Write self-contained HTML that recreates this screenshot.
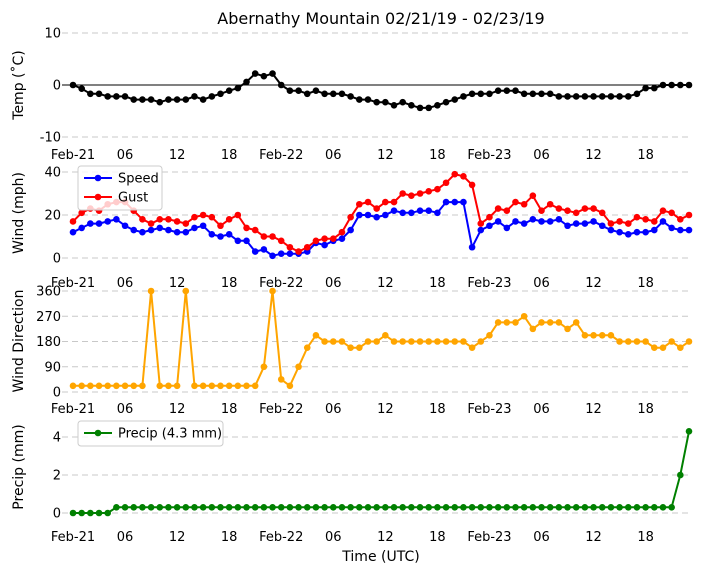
<!DOCTYPE html>
<html><head><meta charset="utf-8"><style>
body{margin:0;background:#fff;font-family:"Liberation Sans",sans-serif}
svg text{font-family:"DejaVu Sans","Liberation Sans",sans-serif}
</style></head><body>
<svg id="c" width="704" height="573"></svg>
<script>
const hours = 72;
const tempVals = [0,-0.7,-1.7,-1.7,-2.2,-2.2,-2.2,-2.8,-2.8,-2.8,-3.3,-2.8,-2.8,-2.8,-2.2,-2.8,-2.2,-1.7,-1.1,-0.6,0.6,2.2,1.7,2.2,0,-1.1,-1.1,-1.7,-1.1,-1.7,-1.7,-1.7,-2.2,-2.8,-2.8,-3.3,-3.3,-3.9,-3.3,-3.9,-4.4,-4.4,-3.9,-3.3,-2.8,-2.2,-1.7,-1.7,-1.7,-1.1,-1.1,-1.1,-1.7,-1.7,-1.7,-1.7,-2.2,-2.2,-2.2,-2.2,-2.2,-2.2,-2.2,-2.2,-2.2,-1.7,-0.6,-0.6,0,0,0,0];
const speedVals = [12,14,16,16,17,18,15,13,12,13,14,13,12,12,14,15,11,10,11,8,8,3,4,1,2,2,2,3,7,6,8,9,13,20,20,19,20,22,21,21,22,22,21,26,26,26,5,13,15,17,14,17,16,18,17,17,18,15,16,16,17,15,13,12,11,12,12,13,17,14,13,13];
const gustVals = [17,21,23,22,25,26,26,22,18,16,18,18,17,16,19,20,19,15,18,20,14,13,10,10,8,5,3,5,8,9,9,12,19,25,26,23,26,26,30,29,30,31,32,35,39,38,34,16,19,23,22,26,25,29,22,25,23,22,21,23,23,21,16,17,16,19,18,17,22,21,18,20];
const dirVals = [22,22,22,22,22,22,22,22,22,360,22,22,22,360,22,22,22,22,22,22,22,22,90,360,45,22,90,158,202,180,180,180,158,158,180,180,202,180,180,180,180,180,180,180,180,180,158,180,202,248,248,248,270,225,248,248,248,225,248,202,202,202,202,180,180,180,180,158,158,180,158,180];
const precipVals = [0,0,0,0,0,0.3,0.3,0.3,0.3,0.3,0.3,0.3,0.3,0.3,0.3,0.3,0.3,0.3,0.3,0.3,0.3,0.3,0.3,0.3,0.3,0.3,0.3,0.3,0.3,0.3,0.3,0.3,0.3,0.3,0.3,0.3,0.3,0.3,0.3,0.3,0.3,0.3,0.3,0.3,0.3,0.3,0.3,0.3,0.3,0.3,0.3,0.3,0.3,0.3,0.3,0.3,0.3,0.3,0.3,0.3,0.3,0.3,0.3,0.3,0.3,0.3,0.3,0.3,0.3,0.3,2.0,4.3];
const xTickLabels = ["Feb-21","06","12","18","Feb-22","06","12","18","Feb-23","06","12","18"];
const tempTicks = [10,0,-10];
const windTicks = [0,20,40];
const dirTicks = [0,90,180,270,360];
const precipTicks = [0,2,4];

const svg = document.getElementById('c');
const NS = 'http://www.w3.org/2000/svg';
function mk(tag, attrs, parent){const e=document.createElementNS(NS,tag);for(const k in attrs)e.setAttribute(k,attrs[k]);(parent||svg).appendChild(e);return e;}
const x = h => 73 + h * (616/71);
function lin(v0,p0,v1,p1){return v => p0 + (v - v0) * (p1 - p0) / (v1 - v0);}

const t = mk('text',{x:381,y:24,'text-anchor':'middle','font-size':16});
t.textContent='Abernathy Mountain 02/21/19 - 02/23/19';



function panel(name, ylab, ticks, yf, tickY, labY, gridDash){
  const g = mk('g',{});
  
  
  ticks.forEach(v=>{
    const y=yf(v);
    const l=mk('line',{x1:62,x2:690,y1:y,y2:y,stroke:'#c8c8c8','stroke-dasharray':'6,4','stroke-width':1},g);
    
    
    const tx=mk('text',{x:61,y:y+4.5,'text-anchor':'end','font-size':13},g);
    tx.textContent=v;
    
    
  });
  xTickLabels.forEach((s,i)=>{
    const tx=mk('text',{x:x(i*6),y:tickY,'text-anchor':'middle','font-size':13},g);
    tx.textContent=s;
    
    
  });
  const yl=mk('text',{x:0,y:0,'text-anchor':'middle','font-size':14,transform:`translate(23,${labY}) rotate(-90)`},g);
  yl.textContent=ylab;
  
  
  return g;
}
function series(g, vals, yf, color, name){
  const pts = vals.map((v,i)=>x(i).toFixed(1)+','+yf(v).toFixed(1)).join(' ');
  const p=mk('polyline',{points:pts,fill:'none',stroke:color,'stroke-width':2},g);
  
  
  vals.forEach((v,i)=>{
    const c=mk('circle',{cx:x(i),cy:yf(v),r:3.3,fill:color},g);
    
    
  });
}
function legend(g, items, lx, ly, w){
  const h = items.length*19+6;
  const r=mk('rect',{x:lx,y:ly,width:w,height:h,fill:'#fff',stroke:'#ccc',rx:3,'fill-opacity':0.8},g);
  
  
  items.forEach((it,i)=>{
    const yy=ly+12+i*19;
    const l=mk('line',{x1:lx+6,x2:lx+34,y1:yy,y2:yy,stroke:it[1],'stroke-width':2},g);
    
    
    const c=mk('circle',{cx:lx+20,cy:yy,r:3.3,fill:it[1]},g);
    
    
    const tx=mk('text',{x:lx+40,y:yy+4.5,'font-size':13},g);
    tx.textContent=it[0];
    
    
  });
}

// Temp
const yT = lin(10,33,-10,137);
const gT = panel('temp','Temp (˚C)',tempTicks,yT,159,85);
const zl=mk('line',{x1:62,x2:690,y1:yT(0),y2:yT(0),stroke:'#000','stroke-width':1},gT);


series(gT,tempVals,yT,'#000','temp');

// Wind
const yW = lin(0,258,40,172);
const gW = panel('wind','Wind (mph)',windTicks,yW,287,213);
series(gW,speedVals,yW,'#0000ff','speed');
series(gW,gustVals,yW,'#ff0000','gust');
legend(gW,[['Speed','#0000ff'],['Gust','#ff0000']],78,166,84);

// Direction
const yD = lin(0,392,360,291);
const gD = panel('direction','Wind Direction',dirTicks,yD,413,341);
series(gD,dirVals,yD,'#ffa500','direction');

// Precip
const yP = lin(0,513,4,437);
const gP = panel('precip','Precip (mm)',precipTicks,yP,541,467);
series(gP,precipVals,yP,'#008000','precip');
legend(gP,[['Precip (4.3 mm)','#008000']],78,421,145);

const xl=mk('text',{x:381,y:561,'text-anchor':'middle','font-size':14});
xl.textContent='Time (UTC)';


</script>
</body></html>
